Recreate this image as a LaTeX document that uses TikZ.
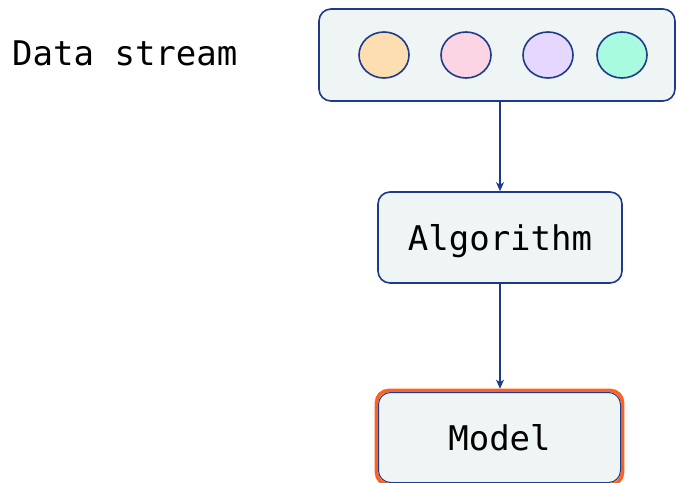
\documentclass[tikz,border=0pt]{standalone}
\usepackage{fontspec}
\newfontfamily\monofont{DejaVu Sans Mono}
\usetikzlibrary{shapes.geometric,arrows.meta}
\definecolor{edgeblue}{RGB}{30,58,138}
\definecolor{boxfill}{RGB}{239,244,244}
\definecolor{accent}{RGB}{255,98,30}
\definecolor{cpeach}{RGB}{253,222,176}
\definecolor{cpink}{RGB}{252,213,229}
\definecolor{clav}{RGB}{229,215,253}
\definecolor{cmint}{RGB}{168,251,223}
\tikzset{
  box/.style={draw=edgeblue, line width=1.6pt, fill=boxfill, rounded corners=12pt,
    inner sep=0pt, font=\monofont\fontsize{34}{40}\selectfont,
    text height=25pt, text depth=0pt},
  dot/.style={ellipse, draw=edgeblue, line width=1.6pt, minimum width=50pt,
    minimum height=46pt, inner sep=0pt},
  label/.style={font=\monofont\fontsize{34}{40}\selectfont, inner sep=0pt},
  flow/.style={draw=edgeblue, line width=1.3pt, -{Stealth[length=9pt,width=8pt,inset=2.5pt]}}
}
\begin{document}
\begin{tikzpicture}[x=1pt,y=-1pt]
\useasboundingbox (0,0) rectangle (676,482);
\node[label, anchor=base west] (title) at (12,65) {Data stream};
\node[box, minimum width=356pt, minimum height=92pt] (stream) at (497,55) {};
\node[dot, fill=cpeach] (d1) at (384,55) {};
\node[dot, fill=cpink] (d2) at (466,55) {};
\node[dot, fill=clav] (d3) at (548,55) {};
\node[dot, fill=cmint] (d4) at (622,55) {};
\node[box, minimum width=244pt, minimum height=91pt] (algo) at (500,237.5) {Algorithm};
\node[box, minimum width=246pt, minimum height=94pt, draw=accent, line width=3.6pt] (modelo) at (499.5,437.5) {};
\node[box, minimum width=242pt, minimum height=90pt, fill=none, line width=1pt] (model) at (499.5,437.5) {Model};
\draw[flow] (stream.south -| algo.north) -- (algo.north);
\draw[flow] (algo.south) -- (algo.south |- modelo.north);
\end{tikzpicture}
\end{document}
